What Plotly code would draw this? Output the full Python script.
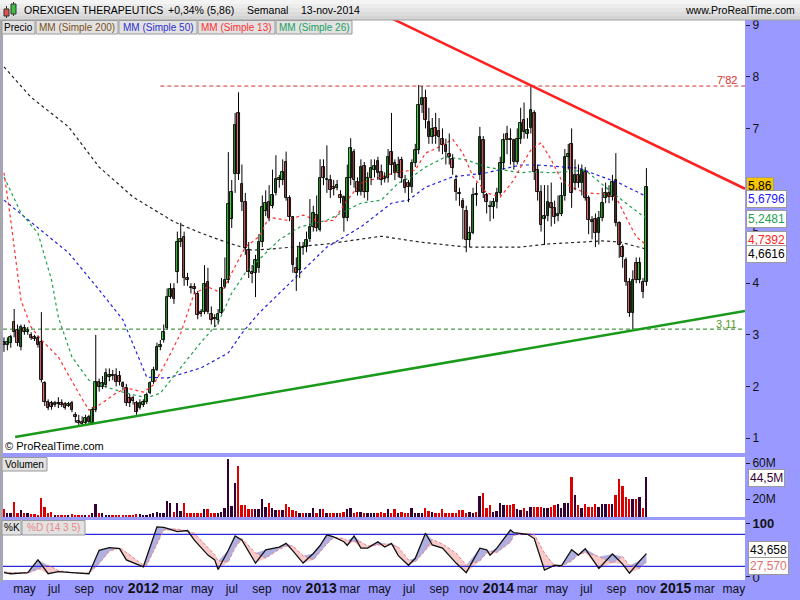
import pandas as pd
import numpy as np
import plotly.graph_objects as go

W, H = 800, 600
def px(x): return x / W
def py(y): return 1 - y / H

FONT = "Liberation Sans, Arial, sans-serif"

# ---------------- DATA ----------------
week0 = "2011-03-28"   # first weekly candle

open_ = [2.86,2.80,2.84,3.25,3.09,2.76,3.13,3.05,3.00,2.96,
         2.94,2.86,2.07,1.70,1.68,1.64,1.68,1.68,1.66,1.62,
         1.68,1.45,1.33,1.31,1.30,1.40,1.29,1.54,2.08,1.98,
         2.02,2.18,2.22,2.22,2.20,2.06,1.97,1.78,1.78,1.68,
         1.58,1.64,1.70,1.87,2.08,2.32,2.76,2.90,3.13,3.73,
         3.89,4.22,4.79,4.90,4.10,3.92,3.92,3.80,3.44,3.44,
         4.02,3.40,3.32,3.28,3.42,3.92,4.06,5.24,6.12,7.30,
         5.92,5.57,4.64,4.22,4.20,4.30,4.80,5.40,5.57,5.50,
         5.75,6.04,6.00,6.35,5.65,5.28,4.30,4.26,4.70,4.70,
         4.85,5.09,5.32,5.03,6.25,6.00,6.00,5.86,5.84,5.70,
         5.67,5.26,6.04,6.54,5.96,5.77,6.27,5.77,6.04,6.20,
         6.37,6.15,6.06,6.04,6.54,6.33,6.13,6.39,6.00,5.95,
         5.86,6.33,6.58,7.45,7.59,7.12,6.83,7.00,6.95,6.80,
         6.68,6.50,6.40,6.00,5.75,5.60,5.40,4.84,4.97,5.72,
         6.10,6.77,5.70,5.50,5.47,5.57,5.75,6.33,6.90,6.80,
         6.77,6.35,6.79,7.16,6.90,7.00,7.30,6.19,5.77,5.25,
         5.30,5.55,5.46,5.30,5.34,5.69,6.45,6.70,5.95,6.10,
         5.94,6.15,5.65,5.22,5.25,4.97,5.26,5.65,5.75,5.67,
         6.00,5.17,4.70,4.45,4.02,3.42,4.39,4.06,4.02,4.02]
high = [2.95,2.95,3.00,3.50,3.20,3.20,3.20,3.15,3.05,3.00,
        2.98,3.44,2.10,1.75,1.72,1.72,1.79,1.75,1.70,1.70,
        1.72,1.50,1.45,1.42,1.45,1.45,1.60,3.00,2.15,2.20,
        2.35,2.35,2.32,2.35,2.30,2.10,2.05,1.85,1.82,1.72,
        1.75,1.75,1.88,2.10,2.38,2.85,2.90,3.20,3.90,4.00,
        4.00,5.00,5.17,5.00,4.20,4.00,4.00,3.85,3.50,4.35,
        4.30,3.55,3.40,3.50,4.10,4.50,6.54,6.00,7.30,7.70,
        6.30,5.75,4.80,4.35,4.55,4.95,5.70,5.80,5.90,6.20,
        6.48,6.10,6.40,6.55,5.70,5.30,4.50,4.80,4.80,5.00,
        5.63,5.50,5.70,6.40,6.40,6.67,6.10,6.00,6.00,5.80,
        5.70,6.30,6.81,6.60,6.05,6.40,6.35,6.15,6.40,6.40,
        6.45,6.30,6.15,6.60,7.30,6.40,6.45,6.45,6.10,6.00,
        6.40,6.70,7.84,7.82,7.75,7.40,7.20,7.30,7.20,7.00,
        6.80,6.90,6.50,6.10,5.85,5.65,5.50,5.10,5.85,5.95,
        7.03,6.85,5.75,5.60,5.65,5.85,6.45,6.90,7.05,7.00,
        6.80,7.00,7.40,7.50,7.20,7.82,7.35,6.30,5.90,5.90,
        5.90,5.95,5.60,5.70,5.95,6.60,6.70,7.00,6.40,6.30,
        6.30,6.25,5.70,5.30,5.35,5.40,5.85,5.95,5.90,6.10,
        6.52,5.20,4.75,4.50,4.10,4.25,4.50,4.50,4.10,6.23]
low = [2.67,2.70,2.75,2.95,2.78,2.70,3.00,3.00,2.90,2.88,
       2.75,2.08,1.62,1.54,1.55,1.60,1.58,1.60,1.55,1.60,
       1.50,1.30,1.25,1.24,1.25,1.25,1.25,1.50,1.90,1.95,
       1.98,2.10,2.12,2.00,2.02,1.92,1.62,1.60,1.65,1.45,
       1.55,1.60,1.66,1.85,2.05,2.30,2.70,2.85,3.10,3.70,
       3.60,4.00,4.70,3.95,3.95,3.80,3.80,3.30,3.35,3.40,
       3.40,3.20,3.15,3.20,3.40,3.90,4.00,5.07,5.75,6.00,
       5.40,4.55,4.10,4.00,3.73,4.20,4.70,5.30,5.20,5.45,
       5.70,5.85,5.90,5.60,5.20,4.20,3.85,4.10,4.55,4.60,
       4.80,5.00,5.00,5.00,5.90,5.75,5.65,5.70,5.80,5.55,
       5.00,5.20,5.90,5.85,5.70,5.70,5.65,5.60,5.90,6.05,
       6.00,5.90,5.95,5.95,6.10,6.00,6.05,5.95,5.75,5.57,
       5.75,6.25,6.50,7.30,7.00,6.70,6.70,6.70,6.55,6.50,
       6.30,6.30,6.10,5.60,5.50,4.85,4.60,4.70,4.95,5.50,
       6.00,5.65,5.35,5.20,5.25,5.45,5.70,6.20,6.50,6.30,
       6.20,6.30,6.70,6.80,6.80,6.90,6.00,5.60,5.00,4.74,
       5.20,5.10,5.15,5.20,5.30,5.60,6.20,5.46,5.80,5.85,
       5.70,5.60,4.95,4.85,4.70,4.75,5.20,5.55,5.55,5.60,
       5.10,4.49,4.30,3.95,3.35,3.11,4.00,4.00,3.71,3.95]
close = [2.80,2.86,2.96,3.05,2.84,3.15,3.05,3.10,2.94,2.92,
         2.80,2.12,1.70,1.58,1.60,1.68,1.66,1.64,1.58,1.66,
         1.54,1.41,1.29,1.27,1.38,1.31,1.54,2.08,1.98,2.06,
         2.26,2.22,2.20,2.08,2.08,1.99,1.68,1.68,1.72,1.50,
         1.68,1.70,1.83,2.07,2.32,2.76,2.80,3.05,3.73,3.89,
         3.70,4.79,4.86,4.10,4.06,3.90,3.88,3.38,3.40,3.98,
         3.44,3.28,3.30,3.40,3.90,4.06,5.53,5.77,7.07,6.12,
         5.57,4.68,4.22,4.18,4.45,4.80,5.48,5.55,5.26,5.70,
         6.02,6.00,6.15,5.65,5.28,4.35,4.20,4.70,4.68,4.83,
         5.09,5.36,5.07,6.04,6.04,6.02,5.80,5.82,5.90,5.65,
         5.26,6.04,6.62,6.00,5.77,6.25,5.77,6.04,6.23,6.27,
         6.13,6.00,6.02,6.45,6.30,6.13,6.30,6.04,5.84,5.86,
         6.33,6.58,7.45,7.59,7.16,6.83,6.99,6.85,6.83,6.68,
         6.54,6.45,6.23,5.77,5.72,5.46,4.84,4.97,5.71,5.70,
         6.83,5.75,5.57,5.47,5.57,5.75,6.33,6.77,6.77,6.77,
         6.35,6.79,7.10,6.93,6.97,7.36,6.15,5.77,5.13,5.30,
         5.57,5.46,5.28,5.34,5.69,6.45,6.50,5.75,6.10,5.94,
         6.19,5.65,5.22,5.19,4.97,5.26,5.55,5.75,5.67,5.96,
         5.17,4.74,4.51,4.02,3.42,4.06,4.06,4.39,3.83,5.86]

volume_m = [8.5,4.8,4.0,17.0,4.8,7.8,4.8,4.0,3.5,3.5,
            2.5,21.5,11.5,4.8,5.3,2.5,2.5,2.5,2.0,2.5,
            3.5,2.0,2.0,2.0,2.0,2.5,4.0,14.4,4.8,4.8,
            2.5,2.5,2.5,2.5,2.5,2.5,2.5,2.5,2.5,3.5,
            3.5,2.5,2.5,3.5,4.8,5.8,4.8,4.0,18.0,15.5,
            5.8,15.5,6.5,15.5,4.8,4.8,4.0,4.0,4.8,8.5,
            8.5,4.8,4.0,4.0,5.8,10.5,64.0,12.0,37.5,56.7,
            13.0,13.0,9.0,9.0,9.0,9.0,20.0,11.0,16.0,9.5,
            7.8,7.8,7.8,14.4,11.0,7.8,6.5,4.8,4.8,4.8,
            4.8,9.5,4.0,8.5,8.5,4.8,4.8,4.8,4.8,4.0,
            5.5,8.5,9.5,4.8,5.5,5.5,4.8,4.8,4.0,4.8,
            4.8,5.8,4.8,8.5,4.8,8.5,4.8,5.5,4.8,4.8,
            9.6,4.8,4.8,4.8,9.6,7.2,5.8,4.8,4.0,8.5,
            4.0,4.0,4.8,4.8,7.8,7.8,4.8,5.8,4.8,5.8,
            23.0,27.0,10.5,13.0,5.8,7.2,16.0,13.0,13.0,13.0,
            14.4,8.5,7.8,10.5,7.2,11.5,11.5,11.5,11.5,10.5,
            10.5,11.5,13.0,14.4,10.5,16.0,16.0,44.8,24.4,13.0,
            10.5,14.4,11.5,11.5,14.4,11.5,14.4,14.4,14.4,14.4,
            24.4,42.0,34.4,21.8,20.0,20.0,20.0,22.0,9.6,44.5]

# moving averages (week number -> value)
ma200_wk = [0,8,19,28,38,50,58,66,73,78,95,111,122,136,152,160,176,181,189]
ma200_val = [8.19,7.60,7.03,6.25,5.67,5.19,4.97,4.78,4.64,4.66,4.76,4.91,4.80,4.70,4.70,4.76,4.82,4.80,4.66]
ma50_wk = [0,9,19,28,35,42,48,58,66,70,75,85,95,105,114,119,124,132,142,152,157,169,176,181,189]
ma50_val = [5.61,5.13,4.59,3.87,3.29,2.18,2.16,2.36,2.65,3.03,3.42,4.06,4.70,5.09,5.55,5.61,5.86,6.06,6.14,6.29,6.29,6.23,6.06,5.94,5.68]
ma13_wk = [0,2,5,8,11,16,22,25,28,33,36,41,44,48,52,56,60,64,67,71,75,78,83,88,93,97,101,105,111,116,121,124,128,132,135,138,142,146,150,152,155,158,161,164,167,171,176,180,183,186,189]
ma13_val = [6.14,5.22,3.67,3.15,2.90,2.57,1.87,1.54,1.64,1.87,1.97,1.89,2.03,2.51,3.03,3.81,3.93,3.81,4.20,4.70,4.90,5.28,5.22,5.32,5.19,5.22,5.61,5.94,6.06,6.16,6.19,6.52,6.64,6.79,6.52,6.06,5.75,5.67,6.00,6.25,6.58,6.72,6.39,6.00,5.86,5.75,5.73,5.67,5.28,4.90,4.74]
ma26_wk = [0,5,10,14,16,20,25,30,36,42,46,52,58,63,67,71,75,81,87,95,101,105,111,116,120,124,130,136,142,148,152,155,161,171,177,183,189]
ma26_val = [6.06,5.36,4.97,4.06,3.34,2.57,2.12,1.99,1.87,1.78,1.87,2.36,2.86,3.23,3.81,4.20,4.45,4.84,5.09,5.22,5.42,5.55,5.61,5.94,6.06,6.25,6.45,6.39,6.25,6.19,6.14,6.16,6.14,6.19,5.86,5.55,5.25]

# stochastic (%K, %D)
st_wk = [0,2,7,10,13,16,20,25,28,31,34,36,41,42,45,47,51,54,56,60,62,63,66,68,70,74,77,81,83,85,88,91,93,95,97,100,101,103,105,107,110,112,114,116,119,121,124,126,129,133,136,140,142,143,145,149,150,154,156,159,162,164,167,169,171,175,179,182,184,187,189]
st_k = [8,6,8,32,6,10,8,6,50,55,53,32,19,37,94,93,85,87,69,41,32,14,50,77,69,26,51,56,63,49,26,44,59,79,75,66,59,77,54,54,66,56,63,40,22,35,82,60,54,26,8,54,51,41,54,88,83,80,72,13,22,21,51,41,53,16,43,24,7,30,43.658]
st_d = [10,8,7,15,22,12,8,7,25,48,55,46,22,22,60,88,90,86,82,55,42,30,28,55,72,45,35,52,58,58,40,32,48,62,74,72,68,66,66,58,60,62,60,56,32,28,50,70,62,45,22,30,45,48,46,65,78,82,80,45,20,20,30,42,46,38,26,38,22,16,27.570]

# trend lines / levels
red_tl_dates = ["2013-05-06", "2015-06-01"]
red_tl_vals = [9.26, 5.83]
green_tl_dates = ["2011-04-20", "2015-06-01"]
green_tl_vals = [1.02, 3.46]
level_hi, level_hi_from = 7.82, "2012-02-13"
level_lo = 3.11

x_start, x_end = "2011-03-26", "2015-06-01"

price_ticks = [1, 2, 3, 4, 5, 7, 8, 9]   # 6 is hidden behind the value labels
tick_dates = pd.date_range("2011-05-01", "2015-05-01", freq="2MS")
mes = {1: "ene", 3: "mar", 5: "may", 7: "jul", 9: "sep", 11: "nov"}

# ---------------- FIGURE ----------------
dates = pd.date_range(week0, periods=len(close), freq="7D")
o = np.array(open_); c = np.array(close); hi = np.array(high); lo = np.array(low)
up = c >= o
fig = go.Figure()

def add_ma(wk, vals, col):
    fig.add_trace(go.Scatter(x=dates[wk], y=vals, mode="lines",
                             line=dict(color=col, width=1.2, dash="3px,3px"),
                             xaxis="x", yaxis="y", hoverinfo="skip", showlegend=False))

add_ma(ma200_wk, ma200_val, "#222222")
add_ma(ma50_wk, ma50_val, "#2020e0")
add_ma(ma26_wk, ma26_val, "#20a050")
add_ma(ma13_wk, ma13_val, "#ff3030")

fig.add_trace(go.Scatter(x=[level_hi_from, x_end], y=[level_hi, level_hi], mode="lines",
                         line=dict(color="#d03030", width=1, dash="4px,3px"),
                         xaxis="x", yaxis="y", hoverinfo="skip", showlegend=False))
fig.add_trace(go.Scatter(x=[x_start, x_end], y=[level_lo, level_lo], mode="lines",
                         line=dict(color="#1a801a", width=1, dash="4px,3px"),
                         xaxis="x", yaxis="y", hoverinfo="skip", showlegend=False))

# candles: wicks + bodies
wx, wy = [], []
for dt, l, h in zip(dates, lo, hi):
    wx += [dt, dt, None]; wy += [l, h, None]
fig.add_trace(go.Scatter(x=wx, y=wy, mode="lines", line=dict(color="#000000", width=1),
                         xaxis="x", yaxis="y", hoverinfo="skip", showlegend=False))
body_base = np.minimum(o, c)
body_len = np.maximum(np.abs(c - o), 0.015)
fig.add_trace(go.Bar(x=dates, y=body_len, base=body_base,
                     marker=dict(color=np.where(up, "#44dd44", "#ee7777").tolist(),
                                 line=dict(color="#000000", width=0.9)),
                     width=7 * 86400000 * 0.78, xaxis="x", yaxis="y",
                     hoverinfo="skip", showlegend=False))

fig.add_trace(go.Scatter(x=red_tl_dates, y=red_tl_vals, mode="lines",
                         line=dict(color="#ff2020", width=2.5),
                         xaxis="x", yaxis="y", hoverinfo="skip", showlegend=False))
fig.add_trace(go.Scatter(x=green_tl_dates, y=green_tl_vals, mode="lines",
                         line=dict(color="#1a9a1a", width=2.5),
                         xaxis="x", yaxis="y", hoverinfo="skip", showlegend=False))

# volume
vcol = np.where(up, "#330033", "#dd0000").tolist()
fig.add_trace(go.Bar(x=dates, y=volume_m, marker=dict(color=vcol, line=dict(width=0)),
                     width=7 * 86400000 * 0.55, xaxis="x2", yaxis="y2",
                     hoverinfo="skip", showlegend=False))

# stochastic
sd = dates[st_wk]
k = np.array(st_k, dtype=float)
d = np.array(st_d, dtype=float)
fig.add_trace(go.Scatter(x=sd, y=d, mode="lines", line=dict(width=0), xaxis="x3", yaxis="y3",
                         hoverinfo="skip", showlegend=False))
fig.add_trace(go.Scatter(x=sd, y=np.maximum(k, d), mode="lines", line=dict(width=0),
                         fill="tonexty", fillcolor="rgba(110,110,200,0.55)",
                         xaxis="x3", yaxis="y3", hoverinfo="skip", showlegend=False))
fig.add_trace(go.Scatter(x=sd, y=d, mode="lines", line=dict(width=0), xaxis="x3", yaxis="y3",
                         hoverinfo="skip", showlegend=False))
fig.add_trace(go.Scatter(x=sd, y=np.minimum(k, d), mode="lines", line=dict(width=0),
                         fill="tonexty", fillcolor="rgba(240,140,140,0.45)",
                         xaxis="x3", yaxis="y3", hoverinfo="skip", showlegend=False))
for lvl in (80, 20):
    fig.add_trace(go.Scatter(x=[x_start, x_end], y=[lvl, lvl], mode="lines",
                             line=dict(color="#2a2ae0", width=1.3),
                             xaxis="x3", yaxis="y3", hoverinfo="skip", showlegend=False))
fig.add_trace(go.Scatter(x=sd, y=d, mode="lines", line=dict(color="#f08080", width=1, dash="3px,2px"),
                         xaxis="x3", yaxis="y3", hoverinfo="skip", showlegend=False))
fig.add_trace(go.Scatter(x=sd, y=k, mode="lines", line=dict(color="#111111", width=1.3),
                         xaxis="x3", yaxis="y3", hoverinfo="skip", showlegend=False))

# ---------------- LAYOUT ----------------
xdom = [px(3), px(745)]
ticktext = []
for t in tick_dates:
    if t.month == 1:
        ticktext.append('<span style="font-size:14px"><b>%d</b></span>' % t.year)
    else:
        ticktext.append(mes[t.month])

shapes = []
bands = ["#f4f4f4", "#ececec", "#e4e4e4", "#dcdcdc", "#d4d4d4"]
for i, cc in enumerate(bands):
    shapes.append(dict(type="rect", xref="paper", yref="paper", x0=0, x1=1,
                       y0=py(4 * (i + 1)), y1=py(4 * i), fillcolor=cc, line=dict(width=0), layer="above"))
shapes.append(dict(type="line", xref="paper", yref="paper", x0=0, x1=1, y0=py(20), y1=py(20),
                   line=dict(color="#a0a0a0", width=1), layer="above"))
shapes.append(dict(type="rect", xref="paper", yref="paper", x0=0, x1=px(2.5), y0=py(582), y1=py(20),
                   fillcolor="#a8a8a8", line=dict(width=0), layer="above"))
shapes += [
    dict(type="line", xref="paper", yref="paper", x0=px(6.5), x1=px(6.5), y0=py(18), y1=py(6), line=dict(color="#333", width=1), layer="above"),
    dict(type="rect", xref="paper", yref="paper", x0=px(4), x1=px(9), y0=py(16), y1=py(9), fillcolor="#e05050", line=dict(color="#333", width=1), layer="above"),
    dict(type="line", xref="paper", yref="paper", x0=px(13.5), x1=px(13.5), y0=py(16), y1=py(2), line=dict(color="#333", width=1), layer="above"),
    dict(type="rect", xref="paper", yref="paper", x0=px(11), x1=px(16), y0=py(14), y1=py(4), fillcolor="#40c040", line=dict(color="#333", width=1), layer="above"),
]

annotations = []
def box(x0, x1, y0, y1, text, color, size=10, bg="#e2e2e2"):
    shapes.append(dict(type="rect", xref="paper", yref="paper", x0=px(x0), x1=px(x1), y0=py(y1), y1=py(y0),
                       fillcolor=bg, line=dict(color="#9a9a9a", width=1), layer="above"))
    annotations.append(dict(xref="paper", yref="paper", x=px((x0 + x1) / 2), y=py((y0 + y1) / 2),
                            text=text, showarrow=False, xanchor="center", yanchor="middle",
                            font=dict(family=FONT, size=size, color=color)))

box(2, 35, 20.5, 34, "Precio", "#000000")
box(36, 118, 20.5, 34, "MM (Simple 200)", "#7a5020")
box(119, 197, 20.5, 34, "MM (Simple 50)", "#3030d0")
box(198, 275, 20.5, 34, "MM (Simple 13)", "#ff3030")
box(276, 352, 20.5, 34, "MM (Simple 26)", "#20a060")
box(2, 47, 457.5, 471, "Volumen", "#000000")
box(2, 21, 520.5, 535, "%K", "#000000")
box(22, 85, 520.5, 535, "%D (14 3 5)", "#e88888")

def text(x, y, s, size=11, color="#000", anchor="left"):
    annotations.append(dict(xref="paper", yref="paper", x=px(x), y=py(y), text=s,
                            showarrow=False, xanchor=anchor, yanchor="middle",
                            font=dict(family=FONT, size=size, color=color)))

text(22, 10.5, "OREXIGEN THERAPEUTICS", 10.5)
text(166, 10.5, "+0,34% (5,86)", 10.5)
text(245, 10.5, "Semanal", 10.5)
text(299, 10.5, "13-nov-2014", 10.5)
text(797, 10.5, "www.ProRealTime.com", 10.5, anchor="right")
text(3, 446, "© ProRealTime.com", 11)
text(739, 80, "7'82", 11, color="#e03030", anchor="right")
text(739, 324, "3,11", 11, color="#5a9a2a", anchor="right")

def vlabel(y, s, color, bg="#ffffff", x=746):
    annotations.append(dict(xref="paper", yref="paper", x=px(x), y=py(y), text=s, showarrow=False,
                            xanchor="left", yanchor="middle", bgcolor=bg, bordercolor="#9a9a9a",
                            borderwidth=1, borderpad=1, font=dict(family=FONT, size=12, color=color)))

vlabel(186.5, "5,86", "#000000", bg="#f6c400")
vlabel(199, "5,6796", "#2020ff")
vlabel(219, "5,2481", "#20a050")
vlabel(240, "4,7392", "#ff2020")
vlabel(254, "4,6616", "#000000")
vlabel(478, "44,5M", "#330033", x=748)
vlabel(550, "43,658", "#000000", x=748)
vlabel(566, "27,570", "#e07070", x=748)

axfont = dict(family=FONT, size=12, color="#111111")
common = dict(showgrid=False, zeroline=False, automargin=False, showline=False)
fig.update_layout(
    template="none",
    width=W, height=H, autosize=False,
    margin=dict(l=0, r=0, t=0, b=0, pad=0),
    paper_bgcolor="#9999ff", plot_bgcolor="#ffffff",
    font=dict(family=FONT),
    showlegend=False, bargap=0, barmode="overlay",
    xaxis=dict(domain=xdom, anchor="y", range=[x_start, x_end], showticklabels=False,
               ticks="", rangeslider=dict(visible=False), **common),
    xaxis2=dict(domain=xdom, anchor="y2", matches="x", showticklabels=False, ticks="", **common),
    xaxis3=dict(domain=xdom, anchor="free", position=py(580), matches="x", tickmode="array",
                tickvals=list(tick_dates), ticktext=ticktext, ticks="",
                tickfont=axfont, ticklabelshift=4, **common),
    yaxis=dict(domain=[py(453), py(20)], anchor="x", side="right", range=[0.71, 9.1],
               tickvals=price_ticks, ticks="outside", ticklen=4, tickcolor="#222222",
               tickfont=axfont, **common),
    yaxis2=dict(domain=[py(517), py(457)], anchor="x2", side="right", range=[0, 66.7],
                tickvals=[20, 60], ticktext=["20M", "60M"], ticks="outside", ticklen=4,
                tickcolor="#222222", tickfont=axfont, **common),
    yaxis3=dict(domain=[py(580), py(520)], anchor="x3", side="right", range=[-5.7, 106.8],
                tickvals=[0, 100], ticktext=["0", "<b>100</b>"], ticks="outside", ticklen=4,
                tickcolor="#222222", tickfont=dict(family=FONT, size=13, color="#111111"), **common),
    shapes=shapes, annotations=annotations,
)

fig.write_html("out.html", config={"displayModeBar": False},
               post_script="document.body.style.margin='0px';document.body.style.padding='0px';"
                           "document.body.style.overflow='hidden';")
